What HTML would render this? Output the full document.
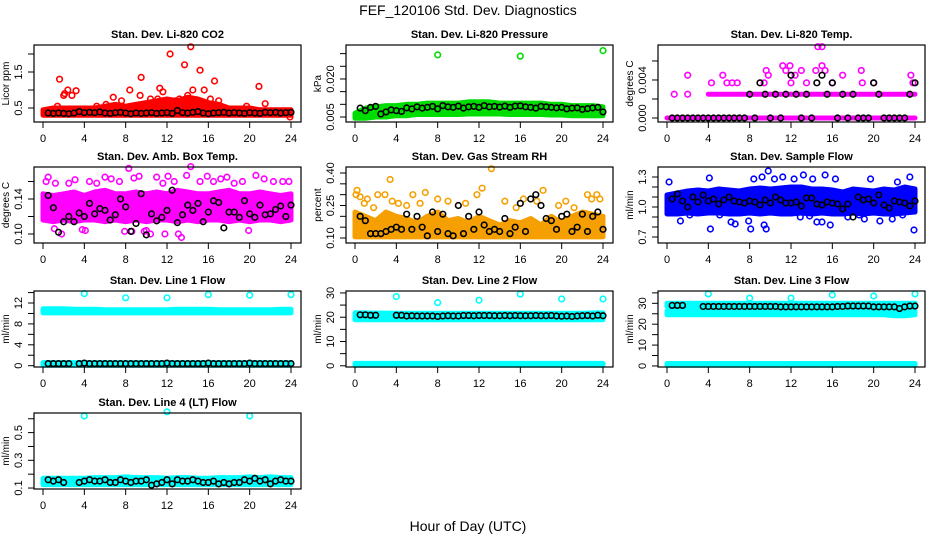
<!DOCTYPE html>
<html><head><meta charset="utf-8"><style>
html,body{margin:0;padding:0;background:#fff;}
svg{display:block;font-family:"Liberation Sans",sans-serif;}
</style></head><body>
<svg id="chart" width="936" height="540" viewBox="0 0 936 540">
<rect width="936" height="540" fill="#fff"/>
<text x="468" y="15" text-anchor="middle" font-size="14">FEF_120106  Std. Dev. Diagnostics</text>
<text x="468" y="531" text-anchor="middle" font-size="14">Hour of Day (UTC)</text>
</svg>
<script>
const bandHours=[0,1,2,3,4,5,6,7,8,9,10,11,12,13,14,15,16,17,18,19,20,21,22,23,24];
const xTicks=[0,4,8,12,16,20,24];

const co2Lo=[0.3,0.3,0.3,0.3,0.3,0.3,0.3,0.3,0.3,0.3,0.3,0.3,0.3,0.3,0.3,0.3,0.3,0.3,0.3,0.3,0.3,0.3,0.3,0.3,0.3];
const co2Hi=[0.45,0.5,0.5,0.5,0.5,0.5,0.55,0.6,0.55,0.6,0.65,0.7,0.75,0.7,0.8,0.75,0.65,0.6,0.5,0.5,0.5,0.45,0.45,0.45,0.45];
const co2OutH=[1.4,1.6,2,2.1,2.4,2.8,3.2,5.2,6.1,6.8,7.2,7.6,8.4,9.4,9.5,10.4,11.1,11.3,11.6,12.3,12.8,13.2,13.7,14.0,14.3,14.5,15.2,15.6,16.2,16.6,17.0,19.7,20.9,21.5,23.9];
const co2OutV=[0.55,1.3,0.85,0.9,1.0,0.85,0.98,0.55,0.6,0.8,0.55,0.7,1.0,0.85,1.35,0.75,0.75,1.05,0.95,2.0,0.7,0.75,1.7,0.85,2.2,1.0,1.55,1.0,0.75,1.25,0.7,0.55,1.1,0.62,0.25];
const co2Black=[0.36,0.35,0.36,0.35,0.34,0.36,0.4,0.37,0.38,0.37,0.39,0.36,0.35,0.37,0.38,0.36,0.34,0.36,0.35,0.36,0.37,0.35,0.36,0.37,0.35,0.43,0.37,0.36,0.38,0.4,0.36,0.34,0.36,0.37,0.38,0.36,0.37,0.36,0.35,0.37,0.36,0.35,0.38,0.37,0.38,0.36,0.37,0.38];

const presLo=[0.0045,0.0045,0.005,0.005,0.0055,0.0055,0.006,0.006,0.006,0.006,0.006,0.0062,0.0062,0.0062,0.0062,0.006,0.006,0.006,0.006,0.0058,0.0058,0.0055,0.0055,0.0055,0.0055];
const presHi=[0.0065,0.0085,0.009,0.0095,0.0095,0.01,0.01,0.0105,0.0105,0.0105,0.0105,0.011,0.011,0.011,0.0105,0.0105,0.0105,0.0105,0.0105,0.01,0.01,0.0095,0.0095,0.0095,0.009];
const presOutH=[8,16,24];
const presOutV=[0.0295,0.029,0.0312];
const presBlack=[0.0085,0.0075,0.0088,0.0092,0.0062,0.007,0.0078,0.0075,0.0072,0.0086,0.0082,0.009,0.0085,0.0088,0.0092,0.0082,0.0095,0.009,0.0088,0.0093,0.0085,0.009,0.0092,0.0088,0.0095,0.009,0.0092,0.0089,0.0093,0.0088,0.0093,0.0094,0.009,0.0088,0.0085,0.0092,0.009,0.0088,0.0086,0.0088,0.0082,0.0085,0.0086,0.008,0.0083,0.0086,0.0088,0.007];

const tempLoA=[0,0,0,0,0,0,0,0,0,0,0,0,0,0,0,0,0,0,0,0,0,0,0,0,0];
const tempHiA=[0,0,0,0,0,0,0,0,0,0,0,0,0,0,0,0,0,0,0,0,0,0,0,0,0];
const tempLoB=[null,null,null,null,0.0025,0.0025,0.0025,0.0025,0.0025,0.0025,0.0025,0.0025,0.0025,0.0025,0.0025,0.0025,0.0025,0.0025,0.0025,0.0025,0.0025,0.0025,0.0025,0.0025,0.0025];
const tempHiB=[null,null,null,null,0.0025,0.0025,0.0025,0.0025,0.0025,0.0025,0.0025,0.0025,0.0025,0.0025,0.0025,0.0025,0.0025,0.0025,0.0025,0.0025,0.0025,0.0025,0.0025,0.0025,0.0025];
const tempOutH=[0.7,2,2,4.3,5.4,5.8,6.3,6.8,9.4,9.6,9.8,11.2,11.5,11.9,12.4,13,14.4,14.6,15,15,15.3,17,18.8,18.9,23.6,23.8,12,13.5,16,20];
const tempOutV=[0.0025,0.0025,0.0045,0.0037,0.0045,0.0037,0.0037,0.0037,0.0037,0.005,0.0045,0.0055,0.005,0.0055,0.0045,0.005,0.005,0.0075,0.0075,0.0055,0.005,0.0045,0.005,0.0037,0.0045,0.0037,0.0037,0.0037,0.0037,0.0037];
const tempBlack=[0,0,0,0,0,0,0,0,0,0,0,0,0,0,0,0.0025,0,0.0037,0.0025,0,0.0025,0,0.0025,0.0045,0.0025,0,0.0025,0,0.0037,0.0045,0.0025,0.0037,0,0.0025,0,0.0025,0,0,0,0.0037,0.0025,0,0,0,0,0,0.0025,0.0037];

const ambLo=[0.116,0.114,0.116,0.114,0.116,0.116,0.114,0.116,0.114,0.116,0.114,0.116,0.116,0.114,0.116,0.114,0.116,0.116,0.114,0.116,0.114,0.116,0.116,0.114,0.116];
const ambHi=[0.146,0.144,0.146,0.148,0.144,0.148,0.15,0.146,0.146,0.148,0.146,0.148,0.146,0.15,0.148,0.146,0.146,0.148,0.15,0.146,0.146,0.148,0.146,0.144,0.146];
const ambOutH=[0.3,0.5,1.2,1.8,2.5,3.1,3.8,4.5,5.2,6,6.6,7.4,7.9,8.3,8.8,9.3,10,10.4,11,11.6,12.1,12.7,13.4,13.9,14.3,15.2,15.9,16.5,17.2,17.8,18.5,19.3,19.9,20.6,21.4,22.3,23.2,23.8,8.6,9.8,11.8,13.1,4.1,1.1];
const ambOutV=[0.16,0.165,0.158,0.1,0.158,0.162,0.105,0.16,0.158,0.165,0.163,0.16,0.103,0.175,0.164,0.166,0.104,0.1,0.165,0.158,0.166,0.16,0.096,0.167,0.177,0.16,0.166,0.16,0.163,0.165,0.158,0.16,0.104,0.167,0.163,0.16,0.16,0.16,0.103,0.103,0.1,0.1,0.104,0.106];
const ambBlack=[0.144,0.13,0.102,0.114,0.12,0.114,0.124,0.12,0.135,0.123,0.129,0.127,0.116,0.122,0.14,0.131,0.103,0.112,0.146,0.099,0.123,0.115,0.119,0.127,0.15,0.113,0.122,0.133,0.127,0.135,0.114,0.125,0.138,0.136,0.107,0.125,0.125,0.119,0.138,0.123,0.119,0.133,0.122,0.123,0.128,0.132,0.12,0.133];

const rhLo=[0.105,0.105,0.105,0.105,0.105,0.105,0.105,0.105,0.105,0.105,0.105,0.105,0.105,0.105,0.105,0.105,0.105,0.105,0.105,0.105,0.105,0.105,0.105,0.105,0.105];
const rhHi=[0.22,0.2,0.18,0.22,0.2,0.19,0.17,0.2,0.22,0.18,0.19,0.17,0.2,0.18,0.16,0.18,0.17,0.19,0.16,0.2,0.17,0.2,0.22,0.21,0.2];
const rhOutH=[0.1,0.2,0.5,0.9,1.2,2.2,2.9,3.4,3.6,4.2,5.6,6.3,6.8,8,9,10.7,11.8,12.3,13.2,14.5,15.6,16.3,17.6,18.2,19.7,20.4,21.2,22.5,22.9,23.4,23.7,1.8,5];
const rhOutV=[0.3,0.32,0.29,0.26,0.28,0.3,0.3,0.37,0.27,0.26,0.3,0.26,0.31,0.28,0.27,0.26,0.3,0.33,0.42,0.27,0.24,0.28,0.27,0.32,0.25,0.27,0.24,0.3,0.28,0.3,0.28,0.24,0.25];
const rhBlack=[0.2,0.18,0.12,0.12,0.12,0.13,0.14,0.15,0.14,0.21,0.14,0.2,0.15,0.11,0.22,0.13,0.21,0.12,0.11,0.25,0.12,0.2,0.14,0.22,0.16,0.13,0.14,0.13,0.19,0.12,0.15,0.26,0.13,0.28,0.3,0.25,0.19,0.18,0.14,0.2,0.21,0.13,0.15,0.21,0.13,0.2,0.22,0.14];

const flowLo=[0.93,0.93,0.94,0.93,0.94,0.94,0.93,0.93,0.94,0.93,0.94,0.93,0.93,0.94,0.93,0.94,0.93,0.93,0.94,0.93,0.94,0.93,0.93,0.94,0.95];
const flowHi=[1.12,1.14,1.16,1.17,1.16,1.18,1.17,1.16,1.18,1.19,1.18,1.19,1.2,1.2,1.18,1.18,1.17,1.15,1.18,1.17,1.16,1.18,1.17,1.2,1.18];
const flowOutH=[0.2,1.3,2.2,4.1,4.2,5.1,6.2,6.6,7.9,8.1,8.4,9.2,9.4,9.6,9.8,10.4,11.2,12.3,12.9,13.2,13.8,14.1,14.5,15,15.3,15.8,16.3,17.5,18.6,19.1,19.7,20.6,21.8,22.8,23.5,23.9,22.3];
const flowOutV=[1.25,0.86,0.92,1.29,0.78,0.92,0.85,0.83,0.86,0.78,1.28,1.3,0.82,0.78,1.36,1.28,1.3,1.28,0.9,1.32,0.91,1.28,0.85,0.85,1.32,0.82,1.28,0.9,0.92,0.88,1.28,0.86,0.88,0.92,1.3,0.77,1.25];
const flowBlack=[1.08,1.13,1.06,1.0,1.1,1.05,1.12,1.06,1.08,1.03,1.07,1.1,1.06,1.05,1.04,1.06,1.05,1.02,1.07,1.04,1.1,1.07,1.04,1.04,1.05,1.01,1.09,1.09,1.03,1.02,1.05,1.04,1.03,0.98,1.03,0.9,1.1,1.07,1.08,1.04,1.12,1.02,0.99,1.06,1.05,1.04,1.01,1.06];

const l1LoA=[10.1,10.1,10.1,10.1,10.1,10.1,10.1,10.1,10.1,10.1,10.1,10.1,10.1,10.1,10.1,10.1,10.1,10.1,10.1,10.1,10.1,10.1,10.1,10.1,10.1];
const l1HiA=[10.9,10.9,10.9,10.8,10.8,10.8,10.7,10.7,10.7,10.7,10.7,10.7,10.7,10.8,10.8,10.8,10.8,10.7,10.7,10.7,10.7,10.7,10.7,10.8,10.8];
const l1LoB=[0.1,0.1,0.1,0.1,0.1,0.1,0.1,0.1,0.1,0.1,0.1,0.1,0.1,0.1,0.1,0.1,0.1,0.1,0.1,0.1,0.1,0.1,0.1,0.1,0.1];
const l1HiB=[0.6,0.6,0.6,0.6,0.6,0.6,0.6,0.6,0.6,0.6,0.6,0.6,0.6,0.6,0.6,0.6,0.6,0.6,0.6,0.6,0.6,0.6,0.6,0.6,0.6];
const l1OutH=[4,8,12,16,20,24];
const l1OutV=[13.8,13,13,13.6,13.5,13.6];
const l1Black=[0.4,0.4,0.4,0.4,0.4,null,0.4,0.5,0.4,0.4,0.4,0.4,0.4,0.4,0.4,0.4,0.4,0.4,0.4,0.4,0.4,0.4,0.4,0.5,0.4,0.4,0.4,0.4,0.4,0.4,0.4,0.5,0.4,0.4,0.4,0.4,0.4,0.4,0.4,0.5,0.4,0.4,0.4,0.4,0.4,0.4,0.4,0.4];

const l2LoA=[19,19,19,19,19,19,19,19,19,19,19,19,19,19,19,19,19,19,19,19,19,19,19,19,19];
const l2HiA=[21.8,21.8,21.7,21.7,21.6,21.6,21.6,21.6,21.6,21.6,21.6,21.6,21.6,21.6,21.6,21.6,21.6,21.6,21.6,21.6,21.6,21.6,21.6,21.8,21.8];
const l2LoB=[0.2,0.2,0.2,0.2,0.2,0.2,0.2,0.2,0.2,0.2,0.2,0.2,0.2,0.2,0.2,0.2,0.2,0.2,0.2,0.2,0.2,0.2,0.2,0.2,0.2];
const l2HiB=[1,1,1,1,1,1,1,1,1,1,1,1,1,1,1,1,1,1,1,1,1,1,1,1,1];
const l2OutH=[4,8,12,16,20,24];
const l2OutV=[28.5,26,27,29.5,27.5,27.5];
const l2Black=[21,21,20.8,20.8,null,null,null,20.8,20.8,20.5,20.6,20.5,20.5,20.5,20.5,20.3,20.5,20.6,20.5,20.5,20.7,20.7,20.6,20.7,20.7,20.7,20.6,20.6,20.7,20.6,20.7,20.6,20.6,20.6,20.7,20.6,20.6,20.7,20.5,20.4,20.5,20.3,20.5,20.6,20.7,20.5,20.8,20.6];

const l3LoA=[28.5,28.5,28.5,28.5,28.5,28.5,28.5,28.5,28.5,28.5,28.5,28.5,28.5,28.5,28.5,28.5,28.5,28.5,28.5,28.5,28.5,28.5,28.5,28.5,28.5];
const l3HiA=[30,30,30,30,30,30,30,30,30,30,30,30,30,30,30,30,30,30,30,30,30,30,30,30,30];
const l3LoB=[24.5,24.5,24.5,24.5,24.5,24.5,24.5,24.5,24.5,24.5,24.5,24.5,24.5,24.5,24.5,24.5,24.5,24.5,24.5,24.5,24.5,24.5,24,24,24.5];
const l3HiB=[26.3,26.3,26.3,26.3,26.3,26.3,26.3,26.3,26.3,26.3,26.3,26.3,26.3,26.3,26.3,26.3,26.3,26.3,26.3,26.3,26.3,26.3,26.3,26.3,26.3];
const l3LoC=[0.3,0.3,0.3,0.3,0.3,0.3,0.3,0.3,0.3,0.3,0.3,0.3,0.3,0.3,0.3,0.3,0.3,0.3,0.3,0.3,0.3,0.3,0.3,0.3,0.3];
const l3HiC=[1.2,1.2,1.2,1.2,1.2,1.2,1.2,1.2,1.2,1.2,1.2,1.2,1.2,1.2,1.2,1.2,1.2,1.2,1.2,1.2,1.2,1.2,1.2,1.2,1.2];
const l3OutH=[4,8,12,16,20,24];
const l3OutV=[34.5,32.5,32.5,34,33.5,34.5];
const l3Black=[29,29,29,null,null,null,28.5,28.5,28.5,28.5,28.5,28.5,28.5,28.5,28.5,28.5,28.5,28.5,28.5,28.5,28.5,28.3,28.3,28.3,28.3,28.3,28.3,28.3,28.3,28.3,28.3,28.3,28.5,28.5,28.7,28.7,28.7,28.7,28.7,28.3,28.3,28.3,28.3,28.3,27.5,28.3,28.7,28.7];

const l4Lo=[0.125,0.125,0.125,0.125,0.125,0.125,0.125,0.125,0.125,0.125,0.125,0.125,0.125,0.125,0.125,0.125,0.125,0.125,0.125,0.125,0.125,0.125,0.125,0.125,0.125];
const l4Hi=[0.17,0.17,0.17,0.17,0.17,0.175,0.175,0.175,0.18,0.175,0.175,0.175,0.17,0.175,0.175,0.17,0.17,0.175,0.175,0.175,0.18,0.175,0.18,0.175,0.175];
const l4OutH=[4,12,20];
const l4OutV=[0.62,0.65,0.62];
const l4Black=[0.16,0.15,0.16,0.14,null,null,0.14,0.15,0.16,0.15,0.15,0.16,0.14,0.14,0.16,0.15,0.14,0.15,0.15,0.16,0.12,0.13,0.14,0.16,0.13,0.16,0.15,0.15,0.16,0.15,0.14,0.14,0.15,0.13,0.14,0.13,0.14,0.14,0.16,0.15,0.17,0.15,0.16,0.13,0.15,0.16,0.15,0.15];

const panels=[
 {id:'co2',title:'Stan. Dev. Li-820 CO2',yt:'Licor ppm',L:34,T:45,B:122,lo:0.111,hi:2.25,ticks:[0.5,1,1.5,2],labs:[0.5,1.5],fmt:1,col:'#ff0000',bands:[[co2Lo,co2Hi]],oh:co2OutH,ov:co2OutV,bk:co2Black},
 {id:'pressure',title:'Stan. Dev. Li-820 Pressure',yt:'kPa',L:346,T:45,B:122,lo:0.00303,hi:0.0334,ticks:[0.005,0.01,0.015,0.02,0.025,0.03],labs:[0.005,0.02],fmt:3,col:'#00dd00',bands:[[presLo,presHi]],oh:presOutH,ov:presOutV,bk:presBlack},
 {id:'temp',title:'Stan. Dev. Li-820 Temp.',yt:'degrees C',L:658,T:45,B:122,lo:-0.00042,hi:0.00768,ticks:[0,0.002,0.004,0.006],labs:[0,0.004],fmt:3,col:'#ff00ff',bands:[[tempLoA,tempHiA],[tempLoB,tempHiB]],oh:tempOutH,ov:tempOutV,bk:tempBlack},
 {id:'amb-box-temp',title:'Stan. Dev. Amb. Box Temp.',yt:'degrees C',L:34,T:167,B:243,lo:0.0897,hi:0.1766,ticks:[0.1,0.12,0.14,0.16],labs:[0.1,0.14],fmt:2,col:'#ff00ff',bands:[[ambLo,ambHi]],oh:ambOutH,ov:ambOutV,bk:ambBlack},
 {id:'gas-rh',title:'Stan. Dev. Gas Stream RH',yt:'percent',L:346,T:167,B:243,lo:0.0769,hi:0.4277,ticks:[0.1,0.15,0.2,0.25,0.3,0.35,0.4],labs:[0.1,0.25,0.4],fmt:2,col:'#f5a000',bands:[[rhLo,rhHi]],oh:rhOutH,ov:rhOutV,bk:rhBlack},
 {id:'sample-flow',title:'Stan. Dev. Sample Flow',yt:'ml/min',L:658,T:167,B:243,lo:0.64,hi:1.4,ticks:[0.7,0.8,0.9,1,1.1,1.2,1.3],labs:[0.7,1,1.3],fmt:1,col:'#0000ff',bands:[[flowLo,flowHi]],oh:flowOutH,ov:flowOutV,bk:flowBlack},
 {id:'line1-flow',title:'Stan. Dev. Line 1 Flow',yt:'ml/min',L:34,T:291,B:367,lo:-0.25,hi:14.3,ticks:[0,2,4,6,8,10,12,14],labs:[0,4,8,12],fmt:0,col:'#00ffff',bands:[[l1LoA,l1HiA],[l1LoB,l1HiB]],oh:l1OutH,ov:l1OutV,bk:l1Black},
 {id:'line2-flow',title:'Stan. Dev. Line 2 Flow',yt:'ml/min',L:346,T:291,B:367,lo:-0.5,hi:30.8,ticks:[0,5,10,15,20,25,30],labs:[0,10,20,30],fmt:0,col:'#00ffff',bands:[[l2LoA,l2HiA],[l2LoB,l2HiB]],oh:l2OutH,ov:l2OutV,bk:l2Black},
 {id:'line3-flow',title:'Stan. Dev. Line 3 Flow',yt:'ml/min',L:658,T:291,B:367,lo:-0.5,hi:35.9,ticks:[0,5,10,15,20,25,30,35],labs:[0,10,20,30],fmt:0,col:'#00ffff',bands:[[l3LoA,l3HiA],[l3LoB,l3HiB],[l3LoC,l3HiC]],oh:l3OutH,ov:l3OutV,bk:l3Black},
 {id:'line4-flow',title:'Stan. Dev. Line 4 (LT) Flow',yt:'ml/min',L:34,T:413,B:489,lo:0.093,hi:0.6415,ticks:[0.1,0.2,0.3,0.4,0.5,0.6],labs:[0.1,0.3,0.5],fmt:1,col:'#00ffff',bands:[[l4Lo,l4Hi]],oh:l4OutH,ov:l4OutV,bk:l4Black}
];

const NS='http://www.w3.org/2000/svg';
const svg=document.getElementById('chart');
function mk(tag,attrs,parent){const e=document.createElementNS(NS,tag);for(const k in attrs)e.setAttribute(k,attrs[k]);parent.appendChild(e);return e;}
const W=267;
panels.forEach(p=>{
  const g=mk('g',{},svg);
  
  
  const xs=h=>p.L+9+h*248/24;
  const ys=v=>p.B-(v-p.lo)/(p.hi-p.lo)*(p.B-p.T);
  p.bands.forEach((bd,bi)=>{
    const lo=bd[0],hi=bd[1];const top=[],bot=[];
    bandHours.forEach((h,i)=>{if(hi[i]!==null&&lo[i]!==null){top.push(xs(h).toFixed(1)+','+ys(hi[i]).toFixed(1));bot.unshift(xs(h).toFixed(1)+','+ys(lo[i]).toFixed(1));}});
    const poly=mk('polygon',{points:top.concat(bot).join(' '),fill:p.col,stroke:p.col,'stroke-width':5,'stroke-linejoin':'round'},g);
    
    
  });
  p.oh.forEach((h,i)=>{
    const c=mk('circle',{cx:xs(h),cy:ys(p.ov[i]),r:2.8,fill:'none',stroke:p.col,'stroke-width':1.6},g);
    
    
  });
  p.bk.forEach((v,i)=>{
    if(v===null)return;
    const c=mk('circle',{cx:xs(0.5*(i+1)),cy:ys(v),r:2.8,fill:'none',stroke:'#000','stroke-width':1.6},g);
    
    
  });
  const box=mk('rect',{x:p.L,y:p.T,width:W,height:p.B-p.T,fill:'none',stroke:'#000','stroke-width':1.2},g);
  
  
  const t=mk('text',{x:p.L+W/2,y:p.T-7,'text-anchor':'middle','font-size':11,'font-weight':'bold'},g);
  t.textContent=p.title;
  
  
  xTicks.forEach(h=>{
    mk('line',{x1:xs(h),x2:xs(h),y1:p.B,y2:p.B+6,stroke:'#000','stroke-width':1},g);
    const tl=mk('text',{x:xs(h),y:p.B+20,'text-anchor':'middle','font-size':11},g);
    tl.textContent=h;
    
    
  });
  p.ticks.forEach(v=>{
    mk('line',{x1:p.L-6,x2:p.L,y1:ys(v),y2:ys(v),stroke:'#000','stroke-width':1},g);
  });
  p.labs.forEach(v=>{
    const y=ys(v),x=p.L-12;
    const tl=mk('text',{x:x,y:y,'text-anchor':'middle','font-size':11,transform:'rotate(-90 '+x+' '+y+')'},g);
    tl.textContent=v.toFixed(p.fmt);
    
    
  });
  const yx=p.L-25,yy=(p.T+p.B)/2;
  const yt=mk('text',{x:yx,y:yy,'text-anchor':'middle','font-size':10,transform:'rotate(-90 '+yx+' '+yy+')'},g);
  yt.textContent=p.yt;
  
  
});
</script>
</body></html>
